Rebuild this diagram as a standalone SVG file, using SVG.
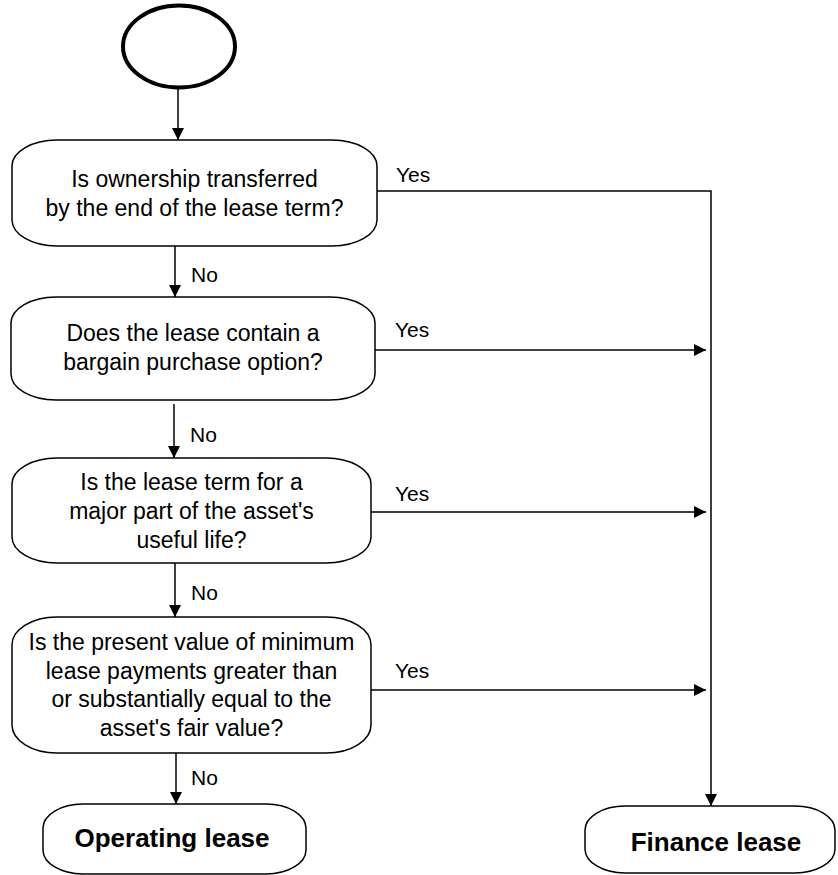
<svg xmlns="http://www.w3.org/2000/svg" width="838" height="875" viewBox="0 0 838 875">
<defs>
<style>
.box{fill:#fff;stroke:#000;stroke-width:1.5}
.t{font-family:"Liberation Sans",Arial,sans-serif;font-size:23px;fill:#000;text-anchor:middle}
.lbl{font-family:"Liberation Sans",Arial,sans-serif;font-size:21px;fill:#000}
.b{font-family:"Liberation Sans",Arial,sans-serif;font-size:26px;font-weight:bold;fill:#000;text-anchor:middle}
.ln{fill:none;stroke:#000;stroke-width:1.5}
</style>
<marker id="ah" markerWidth="12" markerHeight="12" viewBox="0 0 12 12" refX="12" refY="6" orient="auto" markerUnits="userSpaceOnUse">
<path d="M0,0 L12,6 L0,12 Z" fill="#000"/>
</marker>
</defs>
<rect width="838" height="875" fill="#fff"/>
<g id="start"><ellipse cx="179" cy="46.5" rx="56" ry="41" fill="#fff" stroke="#000" stroke-width="4"/></g>
<g id="q1">
<rect class="box" x="12" y="140" width="365" height="106" rx="45" ry="26"/>
<text class="t" x="194.5" y="187">Is ownership transferred</text>
<text class="t" x="194.5" y="216">by the end of the lease term?</text>
</g>
<g id="q2">
<rect class="box" x="11" y="297" width="364" height="103" rx="45" ry="26"/>
<text class="t" x="193" y="341">Does the lease contain a</text>
<text class="t" x="193" y="370">bargain purchase option?</text>
</g>
<g id="q3">
<rect class="box" x="12" y="458" width="359" height="105" rx="45" ry="26"/>
<text class="t" x="191.5" y="490">Is the lease term for a</text>
<text class="t" x="191.5" y="519">major part of the asset's</text>
<text class="t" x="191.5" y="548">useful life?</text>
</g>
<g id="q4">
<rect class="box" x="12" y="617" width="359" height="136" rx="45" ry="28"/>
<text class="t" x="191.5" y="650">Is the present value of minimum</text>
<text class="t" x="191.5" y="679">lease payments greater than</text>
<text class="t" x="191.5" y="707">or substantially equal to the</text>
<text class="t" x="191.5" y="736">asset's fair value?</text>
</g>
<g id="operating">
<rect class="box" x="43" y="804" width="263" height="70" rx="40" ry="24"/>
<text class="b" x="172" y="847">Operating lease</text>
</g>
<g id="finance">
<rect class="box" x="585" y="806" width="250" height="67" rx="40" ry="24"/>
<text class="b" x="716" y="851">Finance lease</text>
</g>
<g id="connectors">
<line class="ln" x1="178" y1="89" x2="178" y2="140" marker-end="url(#ah)"/>
<line class="ln" x1="175" y1="246" x2="175" y2="297" marker-end="url(#ah)"/>
<line class="ln" x1="174" y1="404" x2="174" y2="458" marker-end="url(#ah)"/>
<line class="ln" x1="175" y1="563" x2="175" y2="617" marker-end="url(#ah)"/>
<line class="ln" x1="176" y1="753" x2="176" y2="804" marker-end="url(#ah)"/>
<polyline class="ln" points="377,191 711,191 711,806" marker-end="url(#ah)"/>
<line class="ln" x1="375" y1="350" x2="706" y2="350" marker-end="url(#ah)"/>
<line class="ln" x1="371" y1="512" x2="706" y2="512" marker-end="url(#ah)"/>
<line class="ln" x1="371" y1="690" x2="706" y2="690" marker-end="url(#ah)"/>
<text class="lbl" x="396" y="182">Yes</text>
<text class="lbl" x="395" y="337">Yes</text>
<text class="lbl" x="395" y="501">Yes</text>
<text class="lbl" x="395" y="678">Yes</text>
<text class="lbl" x="191" y="282">No</text>
<text class="lbl" x="190" y="442">No</text>
<text class="lbl" x="191" y="600">No</text>
<text class="lbl" x="191" y="785">No</text>
</g>
</svg>
